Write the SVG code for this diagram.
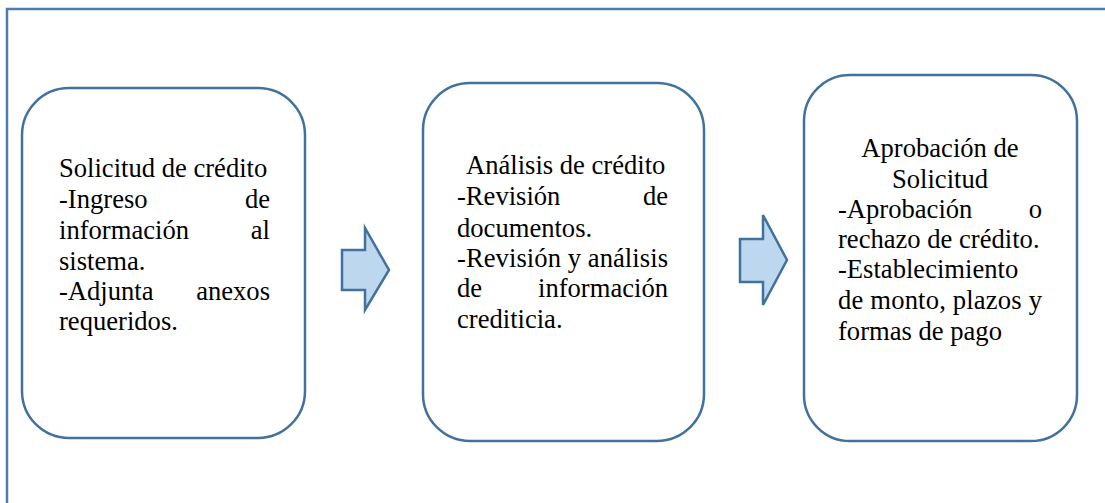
<svg xmlns="http://www.w3.org/2000/svg" width="1105" height="503" viewBox="0 0 1105 503">
<style>
.frame{fill:none;stroke:#4A7DB5;stroke-width:2.5}
.box{fill:#FFFFFF;stroke:#41719C;stroke-width:2.5}
.arrow{fill:#BDD7EE;stroke:#41719C;stroke-width:2.5;stroke-linejoin:miter}
text{font-family:"Liberation Serif","Times New Roman",serif;font-size:26.6px;fill:#000}
.e{text-anchor:end}
.m{text-anchor:middle}
</style>
<rect width="1105" height="503" fill="#FFFFFF"/>
<path class="frame" d="M7,503 V9 H1105"/>
<g id="node-solicitud">
<rect class="box" x="22" y="88" width="283" height="350" rx="47" ry="47"/>
<text x="59" y="177">Solicitud de crédito</text>
<text x="59" y="208">-Ingreso</text><text class="e" x="270" y="208">de</text>
<text x="59" y="239">información</text><text class="e" x="270" y="239">al</text>
<text x="59" y="270">sistema.</text>
<text x="59" y="300">-Adjunta</text><text class="e" x="270" y="300">anexos</text>
<text x="59" y="330">requeridos.</text>
</g>
<g id="node-analisis">
<rect class="box" x="423" y="83" width="281" height="358" rx="47" ry="47"/>
<text x="466" y="174">Análisis de crédito</text>
<text x="457" y="205">-Revisión</text><text class="e" x="668" y="205">de</text>
<text x="457" y="237">documentos.</text>
<text x="457" y="267" textLength="211" lengthAdjust="spacing">-Revisión y análisis</text>
<text x="457" y="297">de</text><text class="e" x="668" y="297">información</text>
<text x="457" y="328">crediticia.</text>
</g>
<g id="node-aprobacion">
<rect class="box" x="804" y="75" width="273" height="366" rx="46" ry="46"/>
<text class="m" x="940" y="157">Aprobación de</text>
<text class="m" x="940" y="188">Solicitud</text>
<text x="838" y="218">-Aprobación</text><text class="e" x="1042" y="218">o</text>
<text x="838" y="248">rechazo de crédito.</text>
<text x="838" y="278">-Establecimiento</text>
<text x="838" y="309" textLength="204" lengthAdjust="spacing">de monto, plazos y</text>
<text x="838" y="340">formas de pago</text>
</g>
<g id="connectors">
<polygon class="arrow" points="342,250 365,250 365,228 389,270 365,310 365,290 342,290"/>
<polygon class="arrow" points="740,239 763,239 763,215 787,260 763,305 763,282 740,282"/>
</g>
</svg>
